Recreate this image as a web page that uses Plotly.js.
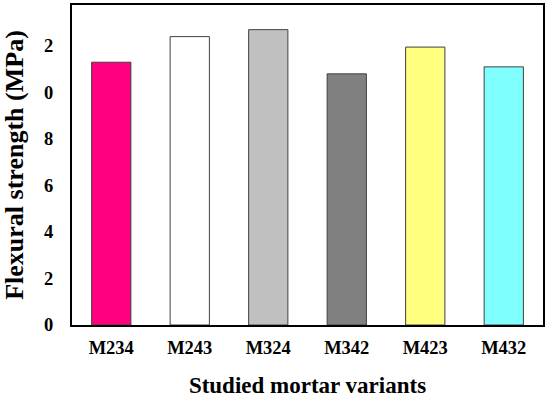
<!DOCTYPE html>
<html>
<head>
<meta charset="utf-8">
<script src="https://cdn.plot.ly/plotly-3.0.1.min.js"></script>
<style>html,body{margin:0;padding:0;background:#fff;}#chart{width:550px;height:399px;}</style>
</head>
<body>
<div id="chart"></div>
<script>
const categories = ["M234", "M243", "M324", "M342", "M423", "M432"];
const strengthValues = [11.3, 12.4, 12.7, 10.8, 11.95, 11.1];
const barColors = ["#FF0080", "#FFFFFF", "#C0C0C0", "#808080", "#FFFF80", "#80FFFF"];
const yTickVals = [0, 2, 4, 6, 8, 10, 12];
const yTickText = ["0", "2", "4", "6", "8", "0", "2"];

const font = {family: "Liberation Serif, Times New Roman, serif", color: "#000"};

Plotly.newPlot("chart", [{
  type: "bar",
  x: categories,
  y: strengthValues,
  marker: {color: barColors, line: {color: "#404040", width: 1}},
  hoverinfo: "x+y"
}], {
  width: 550, height: 399,
  margin: {l: 72, r: 7, t: 5, b: 74},
  paper_bgcolor: "#fff", plot_bgcolor: "#fff",
  bargap: 0.5,
  showlegend: false,
  xaxis: {
    showline: true, linecolor: "#000", linewidth: 2, mirror: true,
    ticks: "", showgrid: false,
    tickfont: Object.assign({size: 18.5, weight: "bold"}, font),
    ticklabelstandoff: 5,
    title: {text: "<b>Studied mortar variants</b>", font: Object.assign({size: 23}, font), standoff: 20}
  },
  yaxis: {
    range: [0, 13.76],
    showline: true, linecolor: "#000", linewidth: 2, mirror: true,
    ticks: "", showgrid: false, zeroline: false,
    tickvals: yTickVals, ticktext: yTickText,
    tickfont: Object.assign({size: 18.5, weight: "bold"}, font),
    ticklabelstandoff: 13,
    title: {text: "<b>Flexural strength (MPa)</b>", font: Object.assign({size: 26}, font), standoff: 16}
  }
}, {displayModeBar: false, staticPlot: true});
</script>
</body>
</html>
